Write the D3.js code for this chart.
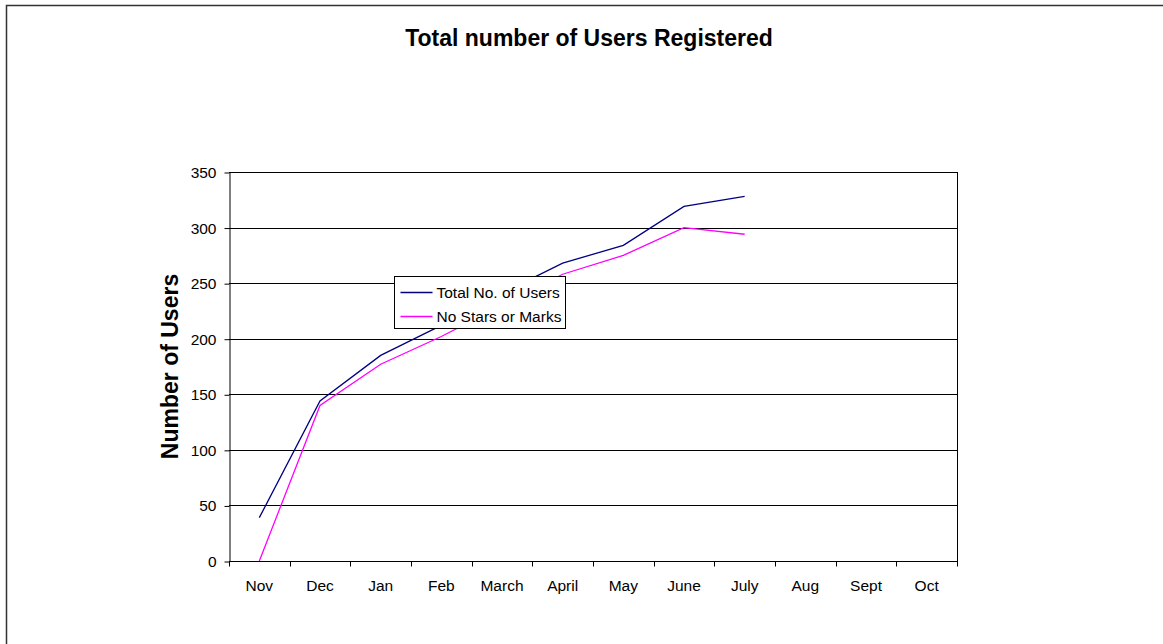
<!DOCTYPE html>
<html>
<head>
<meta charset="utf-8">
<script src="https://cdn.jsdelivr.net/npm/d3@7"></script>
<style>
  body { margin: 0; background: #fff; }
  svg { display: block; font-family: "Liberation Sans", Arial, sans-serif; }
</style>
</head>
<body>
<div id="chart"></div>
<script>
// months on the x axis
const months = ['Nov', 'Dec', 'Jan', 'Feb', 'March', 'April', 'May', 'June', 'July', 'Aug', 'Sept', 'Oct'];
// series values (null = not yet recorded)
const totalUsers = [39, 144, 185, 212, 241, 268, 284, 319, 328, null, null, null];
const noStarsOrMarks = [0, 140, 177, 202, 230, 258, 275, 300, 294, null, null, null];
const yTicks = [0, 50, 100, 150, 200, 250, 300, 350];
const seriesNames = ['Total No. of Users', 'No Stars or Marks'];
const seriesColors = ['#000080', '#ff00ff'];

const width = 1163, height = 644;
const margin = { top: 172, right: 206, bottom: 83, left: 229 };

const svg = d3.select('#chart')
    .append('svg')
    .attr('width', width)
    .attr('height', height);

// outer chart border
svg.append('rect')
    .attr('x', 6.5)
    .attr('y', 5.5)
    .attr('width', width + 10)
    .attr('height', height + 10)
    .attr('fill', 'none')
    .attr('stroke', '#333')
    .attr('stroke-width', 1.5);

// Title
svg.append('text')
    .attr('x', 589)
    .attr('y', 46)
    .attr('text-anchor', 'middle')
    .style('font-size', '23px')
    .style('font-weight', 'bold')
    .text('Total number of Users Registered');

const x = d3.scaleBand()
    .domain(months)
    .range([margin.left, width - margin.right]);

const y = d3.scaleLinear()
    .domain([0, 350])
    .range([height - margin.bottom, margin.top]);

// Gridlines
svg.append('g')
    .attr('class', 'grid')
    .selectAll('line')
    .data(yTicks.slice(1))
    .enter()
    .append('line')
    .attr('x1', margin.left)
    .attr('x2', width - margin.right)
    .attr('y1', d => Math.round(y(d)) + 0.5)
    .attr('y2', d => Math.round(y(d)) + 0.5)
    .attr('stroke', '#000')
    .attr('stroke-width', 1);

// right border of plot area
svg.append('line')
    .attr('x1', width - margin.right + 0.5)
    .attr('x2', width - margin.right + 0.5)
    .attr('y1', margin.top)
    .attr('y2', height - margin.bottom)
    .attr('stroke', '#000');

// Y axis
const yAxis = svg.append('g')
    .attr('transform', `translate(${margin.left + 0.5},0.5)`)
    .call(d3.axisLeft(y).tickValues(yTicks).tickSize(5).tickPadding(8).tickSizeOuter(0));
yAxis.select('.domain').attr('stroke', '#000');
yAxis.selectAll('text').style('font-size', '15.5px').style('font-family', '"Liberation Sans", Arial, sans-serif').attr('fill', '#000');

// X axis with ticks at band edges
const xAxisG = svg.append('g')
    .attr('transform', `translate(0,${height - margin.bottom + 0.5})`);
xAxisG.append('line')
    .attr('x1', margin.left)
    .attr('x2', width - margin.right + 1)
    .attr('stroke', '#000');
xAxisG.selectAll('.tick')
    .data(months.concat(['end']))
    .enter()
    .append('line')
    .attr('x1', (d, i) => Math.round(margin.left + i * x.bandwidth()) + 0.5)
    .attr('x2', (d, i) => Math.round(margin.left + i * x.bandwidth()) + 0.5)
    .attr('y1', 0)
    .attr('y2', 5)
    .attr('stroke', '#000');
xAxisG.selectAll('text')
    .data(months)
    .enter()
    .append('text')
    .attr('x', d => x(d) + x.bandwidth() / 2)
    .attr('y', 29)
    .attr('text-anchor', 'middle')
    .style('font-size', '15.5px')
    .text(d => d);

// Y axis title
svg.append('text')
    .attr('transform', `translate(178,${(margin.top + height - margin.bottom) / 2}) rotate(-90)`)
    .attr('text-anchor', 'middle')
    .style('font-size', '23px')
    .style('font-weight', 'bold')
    .text('Number of Users');

// Lines
const line = d3.line()
    .defined(d => d.v !== null)
    .x(d => x(d.m) + x.bandwidth() / 2)
    .y(d => y(d.v));

[totalUsers, noStarsOrMarks].forEach((values, i) => {
    const data = months.map((m, j) => ({ m: m, v: values[j] }));
    svg.append('path')
        .datum(data)
        .attr('d', line)
        .attr('fill', 'none')
        .attr('stroke', seriesColors[i])
        .attr('stroke-width', 1.3);
});

// Legend
const legend = svg.append('g')
    .attr('transform', 'translate(394.5,276.5)');
legend.append('rect')
    .attr('width', 171)
    .attr('height', 52)
    .attr('fill', '#fff')
    .attr('stroke', '#000');
seriesNames.forEach((name, i) => {
    const item = legend.append('g')
        .attr('transform', `translate(0, ${16 + i * 24})`);
    item.append('line')
        .attr('x1', 6)
        .attr('x2', 38)
        .attr('stroke', seriesColors[i])
        .attr('stroke-width', 1.3);
    item.append('text')
        .attr('x', 42)
        .attr('y', 5.5)
        .style('font-size', '15.5px')
        .text(name);
});
</script>
</body>
</html>
